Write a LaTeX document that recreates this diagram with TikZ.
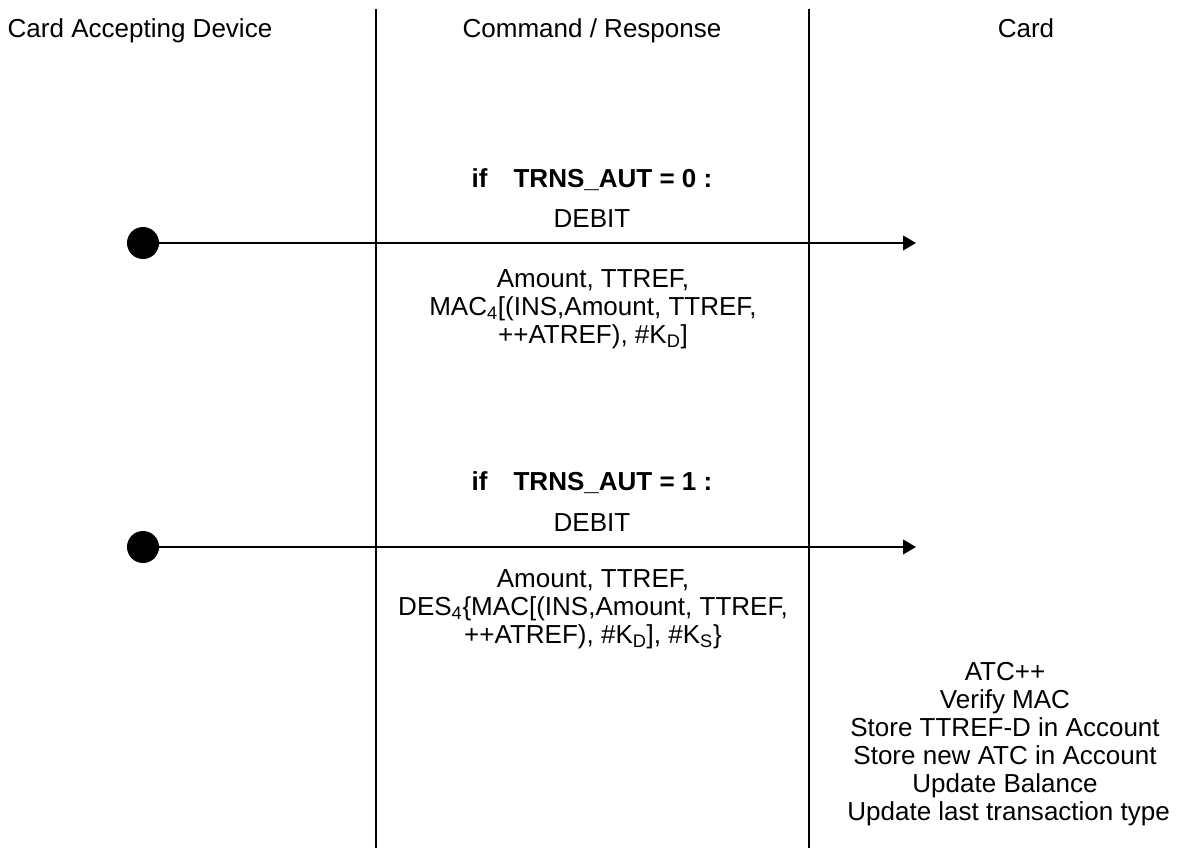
\documentclass[tikz,border=0pt]{standalone}
\usepackage{fontspec}
\setmainfont{Liberation Sans}
\usetikzlibrary{arrows.meta, positioning}

\begin{document}
\begin{tikzpicture}[x=0.025cm, y=-0.025cm,
    every node/.style={font=\fontsize{18.5}{20}\selectfont, align=center, inner sep=0pt},
    header/.style={anchor=base},
    lifeline/.style={line width=1.4pt},
    msg/.style={line width=1.4pt, -{Triangle[length=0.32cm, width=0.36cm]}},
    dot/.style={circle, fill, minimum size=0.8cm}]
        \useasboundingbox (0,0) rectangle (1179,848);

        % headers
        \node (cad) [header] at (140,37) {Card Accepting Device};
        \node (cmd) [header] at (592,37) {Command / Response};
        \node (card) [header] at (1026,37) {Card};

        % lifelines
        \coordinate (top1) at (376,9);
        \coordinate (bot1) at (376,848);
        \coordinate (top2) at (809,9);
        \coordinate (bot2) at (809,848);
        \draw[lifeline] (top1) -- (bot1);
        \draw[lifeline] (top2) -- (bot2);

        % TRNS_AUT = 0
        \node (cond1) at (592,180) {\textbf{if\quad TRNS\_AUT = 0 :}};
        \node (debit1) at (592,219) {DEBIT};
        \node (dot1) [dot] at (143,243) {};
        \coordinate (end1) at (916,243);
        \draw[msg] (dot1) -- (end1);
        \node (data1) at (593,309) {Amount, TTREF,\\
            MAC\textsubscript{4}[(INS,Amount, TTREF,\\
            ++ATREF), \#K\textsubscript{D}]};

        % TRNS_AUT = 1
        \node (cond2) at (592,483) {\textbf{if\quad TRNS\_AUT = 1 :}};
        \node (debit2) at (592,523) {DEBIT};
        \node (dot2) [dot] at (143,547) {};
        \coordinate (end2) at (916,547);
        \draw[msg] (dot2) -- (end2);
        \node (data2) at (593,609) {Amount, TTREF,\\
            DES\textsubscript{4}\{MAC[(INS,Amount, TTREF,\\
            ++ATREF), \#K\textsubscript{D}], \#K\textsubscript{S}\}};

        % card side
        \node (actions) at (1005,744) {ATC++\\ Verify MAC\\ Store TTREF-D in Account\\
            Store new ATC in Account\\ Update Balance\\ \ Update last transaction type};
\end{tikzpicture}
\end{document}
